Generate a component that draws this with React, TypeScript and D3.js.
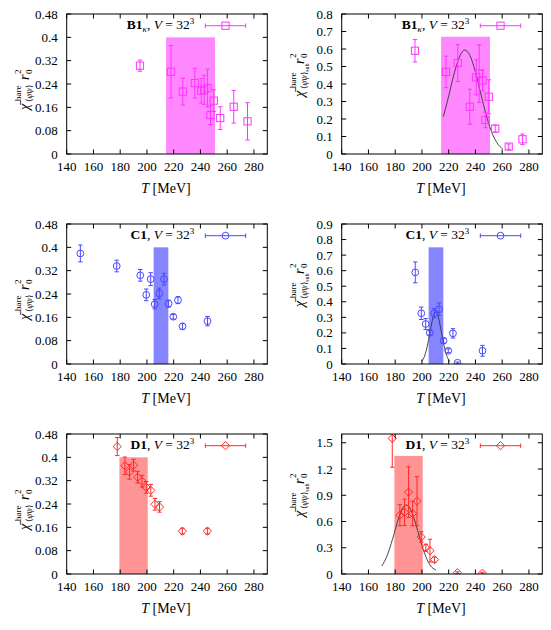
import React from 'react';
import * as d3 from 'd3';

// temperature axis (shared by all panels)
const tDomain = [140, 290];
const tTicks = [140, 160, 180, 200, 220, 240, 260, 280];

// y ticks
const yTicksBare = [0, 0.08, 0.16, 0.24, 0.32, 0.4, 0.48];
const yTicksB1sub = [0, 0.1, 0.2, 0.3, 0.4, 0.5, 0.6, 0.7, 0.8];
const yTicksC1sub = [0, 0.1, 0.2, 0.3, 0.4, 0.5, 0.6, 0.7, 0.8, 0.9];
const yTicksD1sub = [0, 0.3, 0.6, 0.9, 1.2, 1.5];

// B1_kappa ensemble
const tB1 = [194.8, 218, 226.8, 235.8, 240.6, 242.8, 245.3, 247.5, 250, 254.8, 264.9, 275.2];
const chiB1 = [0.303, 0.282, 0.214, 0.243, 0.217, 0.22, 0.226, 0.134, 0.183, 0.123, 0.162, 0.112];
const errB1 = [0.019, 0.09, 0.046, 0.051, 0.042, 0.05, 0.065, 0.033, 0.037, 0.039, 0.056, 0.064];
const chiSubB1 = [0.59, 0.469, 0.52, 0.27, 0.438, 0.459, 0.42, 0.194, 0.327, 0.145, 0.042, 0.084];
const errSubB1 = [0.064, 0.09, 0.105, 0.1, 0.1, 0.165, 0.06, 0.044, 0.097, 0.02, 0.015, 0.03];
const bandB1 = [214.3, 250.9];
const fitB1T = [216, 220, 224, 228, 232, 236, 240, 244, 248, 252, 256, 260.4];
const fitB1 = [0.213, 0.331, 0.457, 0.554, 0.594, 0.561, 0.468, 0.344, 0.224, 0.128, 0.065, 0.029];

// C1 ensemble
const tC1 = [150.2, 177.4, 195, 199.5, 202.8, 205.8, 209.2, 212.8, 216.2, 219.7, 223.2, 226.6, 245.3];
const chiC1 = [0.379, 0.336, 0.304, 0.237, 0.291, 0.205, 0.242, 0.291, 0.207, 0.162, 0.219, 0.129, 0.147];
const errC1 = [0.029, 0.02, 0.02, 0.02, 0.022, 0.016, 0.018, 0.02, 0.012, 0.008, 0.012, 0.01, 0.016];
const tC1sub = [195, 199.5, 202.8, 205.8, 209.2, 212.8, 216.2, 219.7, 223.2, 226.6, 245.3];
const chiSubC1 = [0.589, 0.326, 0.257, 0.201, 0.326, 0.352, 0.15, 0.085, 0.197, 0.008, 0.085];
const errSubC1 = [0.067, 0.04, 0.035, 0.015, 0.03, 0.04, 0.015, 0.012, 0.03, 0.005, 0.035];
const bandC1 = [205, 216];
const fitC1T = [200, 202, 204, 206, 208, 210, 212, 214, 216, 218, 220, 221];
const fitC1 = [0.019, 0.052, 0.115, 0.203, 0.29, 0.334, 0.31, 0.231, 0.139, 0.067, 0.026, 0.015];

// D1 ensemble
const tD1 = [177.8, 183.5, 187, 190, 193, 196.3, 199.5, 202.9, 206, 209.4, 226.5, 245.2];
const chiD1 = [0.437, 0.371, 0.35, 0.373, 0.332, 0.318, 0.297, 0.287, 0.239, 0.23, 0.147, 0.147];
const errD1 = [0.031, 0.03, 0.025, 0.02, 0.02, 0.02, 0.02, 0.02, 0.02, 0.018, 0.01, 0.01];
const chiSubD1 = [1.55, 0.672, 0.705, 0.935, 0.692, 0.832, 0.423, 0.3, 0.267, 0.164, 0.015, 0.01];
const errSubD1 = [0.33, 0.12, 0.15, 0.29, 0.14, 0.28, 0.06, 0.04, 0.13, 0.03, 0.01, 0.01];
const bandD1 = [179.4, 200.6];
const fitD1T = [170, 174, 178, 182, 186, 188, 190, 194, 198, 202, 206, 210.5];
const fitD1 = [0.091, 0.211, 0.398, 0.611, 0.763, 0.789, 0.775, 0.64, 0.43, 0.235, 0.104, 0.045];

const FONT = '"Liberation Serif", "DejaVu Serif", serif';
const PW = 200.6;
const PH = 140;
const colLeft = [66.7, 341.7];
const rowTop = [14, 224, 434];

type Marker = 'square' | 'circle' | 'diamond';

interface PanelProps {
  id: string;
  row: number;
  col: number;
  yMax: number;
  yTicks: number[];
  ts: number[];
  vals: number[];
  errs: number[];
  band: number[];
  bandTop: number;
  fitT?: number[];
  fitV?: number[];
  color: string;
  bandColor: string;
  marker: Marker;
  name: string;
  sub?: string;
}

const MarkerShape = ({ kind, x, y, color }: { kind: Marker; x: number; y: number; color: string }) => {
  if (kind === 'square') return <rect x={x - 3.6} y={y - 3.6} width={7.2} height={7.2} fill="none" stroke={color} />;
  if (kind === 'circle') return <circle cx={x} cy={y} r={3.4} fill="none" stroke={color} />;
  const r = 4.1;
  return <path d={`M${x},${y - r}L${x + r},${y}L${x},${y + r}L${x - r},${y}Z`} fill="none" stroke={color} />;
};

const Panel = (p: PanelProps) => {
  const left = colLeft[p.col];
  const top = rowTop[p.row];
  const x = d3.scaleLinear().domain(tDomain).range([left, left + PW]);
  const y = d3.scaleLinear().domain([0, p.yMax]).range([top + PH, top]);
  const fmt = d3.format('~g');
  const tk = 4.5;
  const line = d3.line<number>().x((_, i) => x(p.fitT![i])).y(d => y(d)).curve(d3.curveMonotoneX);
  const isSub = p.col === 1;
  const lx = left - 38.2; // y-label baseline
  const legX = left + 127.6;
  const legY = top + 15.3;
  const sampleY = top + 11.7;
  const s0 = left + 138.6;
  const s1 = left + 179;

  return (
    <g>
      <defs>
        <clipPath id={`clip-${p.id}`}>
          <rect x={left} y={top} width={PW} height={PH} />
        </clipPath>
      </defs>
      <g clipPath={`url(#clip-${p.id})`}>
        <rect x={x(p.band[0])} y={y(p.bandTop)} width={x(p.band[1]) - x(p.band[0])} height={y(0) - y(p.bandTop)}
          fill={p.bandColor} />
        {p.fitT && p.fitV && (
          <path d={line(p.fitV) || ''} fill="none" stroke="#333" strokeWidth={0.9} />
        )}
        {p.ts.map((t, i) => {
          const cx = x(t);
          const lo = y(p.vals[i] - p.errs[i]);
          const hi = y(p.vals[i] + p.errs[i]);
          return (
            <g key={i} stroke={p.color} strokeWidth={1}>
              <line x1={cx} x2={cx} y1={lo} y2={hi} />
              <line x1={cx - 2.2} x2={cx + 2.2} y1={lo} y2={lo} />
              <line x1={cx - 2.2} x2={cx + 2.2} y1={hi} y2={hi} />
              <MarkerShape kind={p.marker} x={cx} y={y(p.vals[i])} color={p.color} />
            </g>
          );
        })}
      </g>
      {/* frame and ticks */}
      <rect x={left} y={top} width={PW} height={PH} fill="none" stroke="#000" strokeWidth={1} />
      {tTicks.map(t => (
        <g key={`xt${t}`}>
          <line x1={x(t)} x2={x(t)} y1={top + PH} y2={top + PH - tk} stroke="#000" />
          <line x1={x(t)} x2={x(t)} y1={top} y2={top + tk} stroke="#000" />
          <text x={x(t)} y={top + PH + 17} textAnchor="middle" fontSize={13} fontFamily={FONT}>{t}</text>
        </g>
      ))}
      {p.yTicks.map(v => (
        <g key={`yt${v}`}>
          <line x1={left} x2={left + tk} y1={y(v)} y2={y(v)} stroke="#000" />
          <line x1={left + PW} x2={left + PW - tk} y1={y(v)} y2={y(v)} stroke="#000" />
          <text x={left - 9} y={y(v) + 4.5} textAnchor="end" fontSize={13} fontFamily={FONT}>{fmt(v)}</text>
        </g>
      ))}
      <text x={left + PW / 2 - 1} y={top + PH + 38.7} textAnchor="middle" fontSize={14} fontFamily={FONT}>
        <tspan fontStyle="italic">T</tspan> [MeV]
      </text>
      {/* y label */}
      <g transform={`translate(${lx},0) rotate(-90)`} fontFamily={FONT} fill="#000">
        {isSub ? (
          <>
            <text x={-(top + 83)} y={0} fontSize={14} fontStyle="italic">χ̄</text>
            <text x={-(top + 74)} y={-7.5} fontSize={9}>bare</text>
            <text x={-(top + 75)} y={3.5} fontSize={8.5}>⟨<tspan fontStyle="italic">ψ̄ψ</tspan>⟩<tspan fontSize={6} dy={1.5}>sub</tspan></text>
            <text x={-(top + 50)} y={0} fontSize={14} fontStyle="italic">r</text>
            <text x={-(top + 44)} y={-7.5} fontSize={9}>2</text>
            <text x={-(top + 44)} y={3.5} fontSize={9}>0</text>
          </>
        ) : (
          <>
            <text x={-(top + 96)} y={0} fontSize={14} fontStyle="italic">χ̄</text>
            <text x={-(top + 87)} y={-7.5} fontSize={9}>bare</text>
            <text x={-(top + 88)} y={3.5} fontSize={8.5}>⟨<tspan fontStyle="italic">ψ̄ψ</tspan>⟩</text>
            <text x={-(top + 66)} y={0} fontSize={14} fontStyle="italic">r</text>
            <text x={-(top + 60)} y={-7.5} fontSize={9}>2</text>
            <text x={-(top + 60)} y={3.5} fontSize={9}>0</text>
          </>
        )}
      </g>
      {/* legend */}
      <text x={legX} y={legY} textAnchor="end" fontSize={13.5} fontFamily={FONT}>
        <tspan fontWeight="bold">{p.name}</tspan>
        {p.sub ? <tspan fontStyle="italic" fontSize={9} dy={3}>{p.sub}</tspan> : null}
        <tspan dy={p.sub ? -3 : 0}>, </tspan>
        <tspan fontStyle="italic">V</tspan>
        <tspan> = 32</tspan>
        <tspan fontSize={9} dy={-5.5}>3</tspan>
      </text>
      <g stroke={p.color} strokeWidth={1}>
        <line x1={s0} x2={s1} y1={sampleY} y2={sampleY} />
        <line x1={s0} x2={s0} y1={sampleY - 2.2} y2={sampleY + 2.2} />
        <line x1={s1} x2={s1} y1={sampleY - 2.2} y2={sampleY + 2.2} />
        <MarkerShape kind={p.marker} x={(s0 + s1) / 2} y={sampleY} color={p.color} />
      </g>
    </g>
  );
};

export default function App() {
  const b1c = '#ff33ff', b1band = '#ff88ff';
  const c1c = '#4848ff', c1band = '#8585ff';
  const d1c = '#ff2a2a', d1band = '#ff9494';
  return (
    <svg width={551} height={630} style={{ position: 'absolute', left: 0, top: 0, background: '#fff' }}>
      <rect width={551} height={630} fill="#fff" />
      <Panel id="b1" row={0} col={0} yMax={0.48} yTicks={yTicksBare} ts={tB1} vals={chiB1} errs={errB1}
        band={bandB1} bandTop={0.4} color={b1c} bandColor={b1band} marker="square" name="B1" sub="κ" />
      <Panel id="b1s" row={0} col={1} yMax={0.8} yTicks={yTicksB1sub} ts={tB1} vals={chiSubB1} errs={errSubB1}
        band={bandB1} bandTop={0.67} fitT={fitB1T} fitV={fitB1} color={b1c} bandColor={b1band} marker="square" name="B1" sub="κ" />
      <Panel id="c1" row={1} col={0} yMax={0.48} yTicks={yTicksBare} ts={tC1} vals={chiC1} errs={errC1}
        band={bandC1} bandTop={0.4} color={c1c} bandColor={c1band} marker="circle" name="C1" />
      <Panel id="c1s" row={1} col={1} yMax={0.9} yTicks={yTicksC1sub} ts={tC1sub} vals={chiSubC1} errs={errSubC1}
        band={bandC1} bandTop={0.75} fitT={fitC1T} fitV={fitC1} color={c1c} bandColor={c1band} marker="circle" name="C1" />
      <Panel id="d1" row={2} col={0} yMax={0.48} yTicks={yTicksBare} ts={tD1} vals={chiD1} errs={errD1}
        band={bandD1} bandTop={0.4} color={d1c} bandColor={d1band} marker="diamond" name="D1" />
      <Panel id="d1s" row={2} col={1} yMax={1.6} yTicks={yTicksD1sub} ts={tD1} vals={chiSubD1} errs={errSubD1}
        band={bandD1} bandTop={1.35} fitT={fitD1T} fitV={fitD1} color={d1c} bandColor={d1band} marker="diamond" name="D1" />
    </svg>
  );
}
